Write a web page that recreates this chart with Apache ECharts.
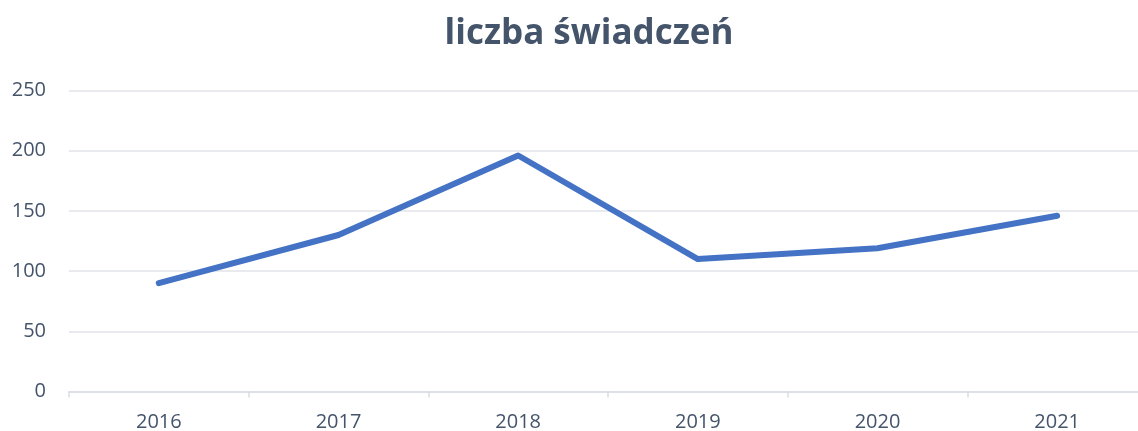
<!DOCTYPE html>
<html>
<head>
<meta charset="utf-8">
<script src="https://cdn.jsdelivr.net/npm/echarts@6/dist/echarts.min.js"></script>
<style>
  html, body { margin: 0; padding: 0; background: #fff; }
  #chart { width: 1138px; height: 431px; }
</style>
</head>
<body>
<div id="chart"></div>
<script>
const years = ["2016", "2017", "2018", "2019", "2020", "2021"];
const counts = [90, 130, 196, 110, 119, 146];
const yTicks = [0, 50, 100, 150, 200, 250];

const chart = echarts.init(document.getElementById("chart"));
chart.setOption({
  animation: false,
  title: {
    text: "liczba świadczeń",
    left: 584,
    top: 12,
    textAlign: "center",
    textStyle: {
      fontFamily: "Open Sans",
      fontWeight: "bold",
      fontSize: 35,
      color: "#44546A"
    }
  },
  // plot runs past the right edge, as in the cropped original
  grid: {
    left: 69,
    width: 1078,
    top: 90.5,
    bottom: 39.5,
    outerBoundsMode: "none"
  },
  xAxis: {
    type: "category",
    data: years,
    boundaryGap: true,
    axisLine: { lineStyle: { color: "#D9DDE3", width: 1.5 } },
    axisTick: { show: true, length: 6, lineStyle: { color: "#D9DDE3", width: 1.5 } },
    axisLabel: {
      margin: 21,
      fontFamily: "Open Sans",
      fontSize: 20,
      color: "#44546A"
    }
  },
  yAxis: {
    type: "value",
    min: yTicks[0],
    max: yTicks[yTicks.length - 1],
    interval: 50,
    axisLine: { show: false },
    axisTick: { show: false },
    splitLine: { lineStyle: { color: "#E0E3E8", width: 1.5 } },
    axisLabel: {
      margin: 23,
      fontFamily: "Open Sans",
      fontSize: 20,
      color: "#44546A"
    }
  },
  series: [
    {
      type: "line",
      data: counts,
      showSymbol: false,
      symbol: "none",
      lineStyle: { color: "#4472C4", width: 6, cap: "round", join: "round" }
    }
  ]
});
</script>
</body>
</html>
